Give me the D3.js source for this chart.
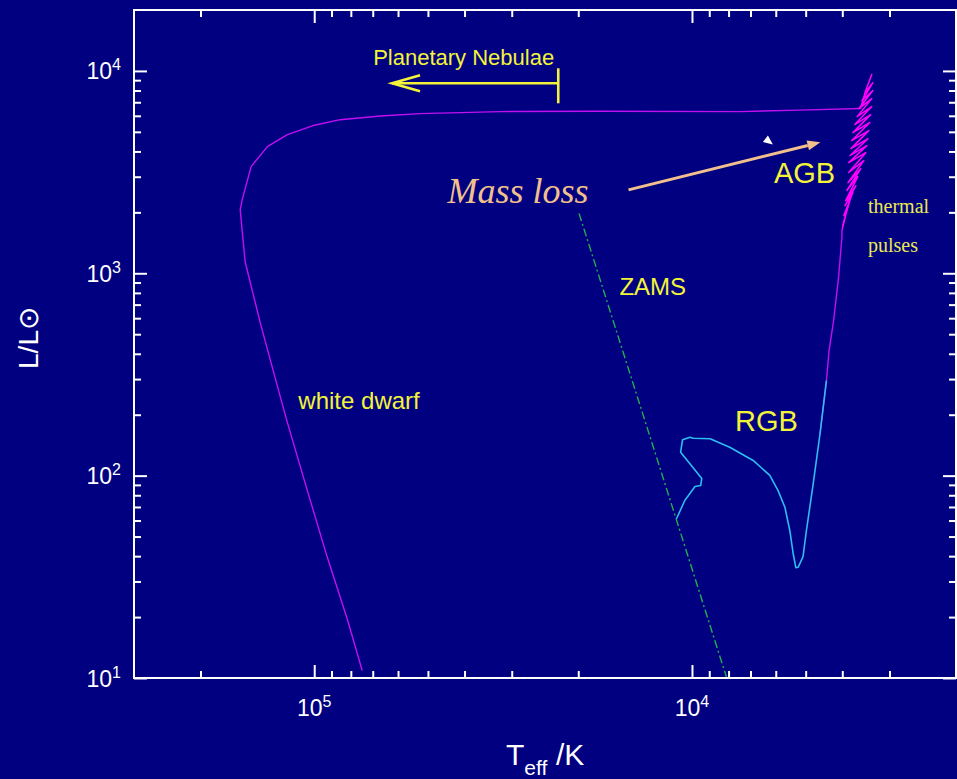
<!DOCTYPE html>
<html>
<head>
<meta charset="utf-8">
<script src="https://cdn.jsdelivr.net/npm/d3@7"></script>
<style>
  html, body { margin: 0; padding: 0; background: #000080; }
  svg { display: block; }
</style>
</head>
<body>
<svg id="chart" width="957" height="779"></svg>
<script>
// Evolution of a low-mass star in the HR diagram.
// Every track point is [log10 Teff (K), log10 L/Lsun].

// Red giant branch (from the main sequence up the giant branch)
const rgbTrack = [
  [4.041, 1.787], [4.019, 1.877], [3.992, 1.946], [3.977, 1.951], [3.974, 1.986],
  [4.030, 2.116], [4.025, 2.177], [4.005, 2.190], [3.997, 2.185], [3.952, 2.182],
  [3.900, 2.140], [3.838, 2.075], [3.794, 2.001], [3.772, 1.926], [3.754, 1.844],
  [3.741, 1.729], [3.732, 1.614], [3.725, 1.545], [3.719, 1.547], [3.706, 1.600],
  [3.697, 1.729], [3.679, 1.960], [3.661, 2.207], [3.644, 2.470]
];

// Upper giant branch and early asymptotic giant branch
const agbAscent = [
  [3.661, 2.207], [3.644, 2.470], [3.637, 2.618], [3.625, 2.766],
  [3.612, 2.980], [3.603, 3.178], [3.603, 3.211]
];

// Thermally pulsing AGB: each pulse dips in luminosity and swings hotter
const thermalPulses = [
  [3.603, 3.211], [3.590, 3.310], [3.601, 3.236], [3.582, 3.359], [3.598, 3.285],
  [3.574, 3.399], [3.595, 3.334], [3.566, 3.433], [3.593, 3.359], [3.561, 3.478],
  [3.590, 3.409], [3.553, 3.517], [3.587, 3.448], [3.545, 3.557], [3.585, 3.498],
  [3.540, 3.596], [3.585, 3.547], [3.537, 3.631], [3.582, 3.581], [3.534, 3.665],
  [3.579, 3.616], [3.532, 3.705], [3.577, 3.656], [3.529, 3.745], [3.574, 3.695],
  [3.527, 3.784], [3.569, 3.735], [3.524, 3.824], [3.563, 3.774], [3.524, 3.863],
  [3.558, 3.814], [3.521, 3.903], [3.550, 3.853], [3.521, 3.942], [3.542, 3.893],
  [3.524, 3.982], [3.540, 3.903], [3.554, 3.814]
];

// Post-AGB crossing and white dwarf cooling track
const postAgbTrack = [
  [3.554, 3.814], [3.714, 3.806], [3.873, 3.799], [4.243, 3.801], [4.508, 3.799],
  [4.720, 3.789], [4.825, 3.777], [4.931, 3.759], [5.003, 3.730], [5.071, 3.685],
  [5.124, 3.626], [5.167, 3.527], [5.190, 3.369], [5.196, 3.315], [5.183, 3.058],
  [5.143, 2.756], [5.095, 2.425], [5.071, 2.262], [5.019, 1.931], [4.966, 1.600],
  [4.913, 1.294], [4.873, 1.037]
];

// Zero-age main sequence
const zams = [[4.299, 3.296], [3.908, 1.000]];

// Axis ticks
const xMajorTicks = [1e5, 1e4];
const xMajorExponents = ["5", "4"];
const xMinorTicks = [2e5, 9e4, 8e4, 7e4, 6e4, 5e4, 4e4, 3e4, 2e4,
                     9e3, 8e3, 7e3, 6e3, 5e3, 4e3, 3e3];
const yMajorTicks = [1e1, 1e2, 1e3, 1e4];
const yMajorExponents = ["1", "2", "3", "4"];
const yMinorTicks = [2, 3, 4, 5, 6, 7, 8, 9].flatMap(k => [k * 10, k * 100, k * 1000]);

// Annotation anchors, in the same [log10 Teff, log10 L] coordinates
const textLabels = [
  { text: "Planetary Nebulae", at: [4.844, 4.030], cls: "sans", size: 22, color: "#f3f33a" },
  { text: "Mass loss",         at: [4.647, 3.346], cls: "serif-it", size: 36, color: "#f2c08c" },
  { text: "AGB",               at: [3.783, 3.445], cls: "sans", size: 29, color: "#f3f33a" },
  { text: "RGB",               at: [3.886, 2.223], cls: "sans", size: 29, color: "#f3f33a" },
  { text: "ZAMS",              at: [4.192, 2.893], cls: "sans", size: 24, color: "#f3f33a" },
  { text: "white dwarf",       at: [5.042, 2.327], cls: "sans", size: 24, color: "#f3f33a" },
  { text: "thermal",           at: [3.534, 3.298], cls: "serif", size: 20, color: "#eaea50" },
  { text: "pulses",            at: [3.534, 3.107], cls: "serif", size: 20, color: "#eaea50" }
];
const nebulaArrow = { from: [4.354, 3.939], to: [4.794, 3.939], barTop: 4.013, barBottom: 3.840 };
const massLossArrow = { from: [4.168, 3.412], to: [3.660, 3.647] };
const markerTriangle = [3.799, 3.656];

const svg = d3.select("#chart");
const W = 957, H = 779;
const plot = { left: 134, right: 956, top: 10, bottom: 678 };

svg.append("rect").attr("width", W).attr("height", H).attr("fill", "#000080");

const x = d3.scaleLog().domain([3e5, 2e3]).range([plot.left, plot.right]);
const y = d3.scaleLog().domain([10, 2e4]).range([plot.bottom, plot.top]);
const px = d => x(Math.pow(10, d[0]));
const py = d => y(Math.pow(10, d[1]));
const line = d3.line().x(px).y(py);

svg.append("clipPath").attr("id", "plot-clip")
  .append("rect")
  .attr("x", plot.left).attr("y", plot.top)
  .attr("width", plot.right - plot.left).attr("height", plot.bottom - plot.top);

const curves = svg.append("g").attr("clip-path", "url(#plot-clip)").attr("fill", "none");

curves.append("path").datum(zams).attr("d", line)
  .attr("stroke", "#22b04e").attr("stroke-width", 1.4)
  .attr("stroke-dasharray", "8,3,2,3");

curves.append("path").datum(postAgbTrack).attr("d", line)
  .attr("stroke", "#c20ff0").attr("stroke-width", 1.4).attr("stroke-linejoin", "round");

curves.append("path").datum(agbAscent).attr("d", line)
  .attr("stroke", "#c20ff0").attr("stroke-width", 1.4).attr("stroke-linejoin", "round");

curves.append("path").datum(thermalPulses).attr("d", line)
  .attr("stroke", "#ff00ff").attr("stroke-width", 1.5).attr("stroke-linejoin", "round");

curves.append("path").datum(rgbTrack).attr("d", line)
  .attr("stroke", "#2dbdf0").attr("stroke-width", 1.6).attr("stroke-linejoin", "round");

// Axes: ticks point inward on all four sides
function styleAxis(g) {
  g.select(".domain").remove();
  g.selectAll(".tick line").attr("stroke", "#ffffff").attr("stroke-width", 2);
  g.selectAll(".tick text").remove();
}
const axes = [
  [d3.axisBottom, x, xMajorTicks, 13, `translate(0,${plot.bottom})`],
  [d3.axisBottom, x, xMinorTicks, 7, `translate(0,${plot.bottom})`],
  [d3.axisTop, x, xMajorTicks, 13, `translate(0,${plot.top})`],
  [d3.axisTop, x, xMinorTicks, 7, `translate(0,${plot.top})`],
  [d3.axisLeft, y, yMajorTicks, 13, `translate(${plot.left},0)`],
  [d3.axisLeft, y, yMinorTicks, 7, `translate(${plot.left},0)`],
  [d3.axisRight, y, yMajorTicks, 13, `translate(${plot.right},0)`],
  [d3.axisRight, y, yMinorTicks, 7, `translate(${plot.right},0)`]
];
axes.forEach(([axisFn, scale, values, len, tr]) => {
  svg.append("g").attr("transform", tr)
    .call(axisFn(scale).tickValues(values).tickSizeInner(-len).tickSizeOuter(0).tickFormat(""))
    .call(styleAxis);
});

svg.append("rect")
  .attr("x", plot.left).attr("y", plot.top)
  .attr("width", plot.right - plot.left).attr("height", plot.bottom - plot.top)
  .attr("fill", "none").attr("stroke", "#ffffff").attr("stroke-width", 2);

const sans = "'Liberation Sans', Arial, Helvetica, sans-serif";
const serif = "'Liberation Serif', 'Times New Roman', Times, serif";

// Tick labels as powers of ten
xMajorTicks.forEach((v, i) => {
  const t = svg.append("text")
    .attr("x", x(v)).attr("y", plot.bottom + 38)
    .attr("text-anchor", "middle").attr("fill", "#ffffff")
    .attr("font-family", sans).attr("font-size", 23);
  t.append("tspan").text("10");
  t.append("tspan").attr("font-size", 16).attr("dy", -9).text(xMajorExponents[i]);
});
yMajorTicks.forEach((v, i) => {
  const t = svg.append("text")
    .attr("x", 121).attr("y", y(v) + 8.5)
    .attr("text-anchor", "end").attr("fill", "#ffffff")
    .attr("font-family", sans).attr("font-size", 23);
  t.append("tspan").text("10");
  t.append("tspan").attr("font-size", 16).attr("dy", -9).text(yMajorExponents[i]);
});

// Axis titles
const xTitle = svg.append("text")
  .attr("x", 506).attr("y", 765).attr("fill", "#ffffff").attr("font-family", sans);
xTitle.append("tspan").attr("font-size", 30).text("T");
xTitle.append("tspan").attr("font-size", 21).attr("dy", 10).text("eff");
xTitle.append("tspan").attr("font-size", 30).attr("x", 556).attr("dy", -10).text("/K");

svg.append("text")
  .attr("transform", "translate(38,338) rotate(-90)")
  .attr("text-anchor", "middle").attr("fill", "#ffffff")
  .attr("font-family", sans).attr("font-size", 28)
  .text("L/L\u2299");

// Annotations
textLabels.forEach(l => {
  svg.append("text")
    .attr("x", px(l.at)).attr("y", py(l.at))
    .attr("fill", l.color)
    .attr("font-family", l.cls === "sans" ? sans : serif)
    .attr("font-style", l.cls === "serif-it" ? "italic" : "normal")
    .attr("font-size", l.size)
    .text(l.text);
});

// Planetary nebula phase: bar with an open arrow pointing to hotter temperatures
const pn = svg.append("g").attr("stroke", "#f3f33a").attr("stroke-width", 2.6).attr("fill", "none");
const pnX0 = px(nebulaArrow.from), pnX1 = px(nebulaArrow.to), pnY = py(nebulaArrow.from);
pn.append("line").attr("x1", pnX0).attr("y1", pnY).attr("x2", pnX1).attr("y2", pnY);
pn.append("line").attr("x1", pnX0).attr("x2", pnX0)
  .attr("y1", py([0, nebulaArrow.barTop])).attr("y2", py([0, nebulaArrow.barBottom]));
pn.append("path").attr("d", `M${pnX1 + 28},${pnY - 8}L${pnX1},${pnY}L${pnX1 + 28},${pnY + 8}`);

// Mass-loss arrow
{
  const x0 = px(massLossArrow.from), y0 = py(massLossArrow.from);
  const x1 = px(massLossArrow.to), y1 = py(massLossArrow.to);
  const ang = Math.atan2(y1 - y0, x1 - x0);
  const hl = 13, hw = 5;
  const bx = x1 - hl * Math.cos(ang), by = y1 - hl * Math.sin(ang);
  svg.append("line").attr("x1", x0).attr("y1", y0).attr("x2", bx).attr("y2", by)
    .attr("stroke", "#f2c08c").attr("stroke-width", 3);
  svg.append("path")
    .attr("d", `M${x1},${y1}L${bx - hw * Math.sin(ang)},${by + hw * Math.cos(ang)}L${bx + hw * Math.sin(ang)},${by - hw * Math.cos(ang)}Z`)
    .attr("fill", "#f2c08c");
}

// Small white pointer
{
  const cx = px(markerTriangle), cy = py(markerTriangle);
  svg.append("path")
    .attr("d", `M${cx},${cy - 5}L${cx - 5},${cy + 1.5}L${cx + 5},${cy + 4}Z`)
    .attr("fill", "#ffffff");
}
</script>
</body>
</html>
